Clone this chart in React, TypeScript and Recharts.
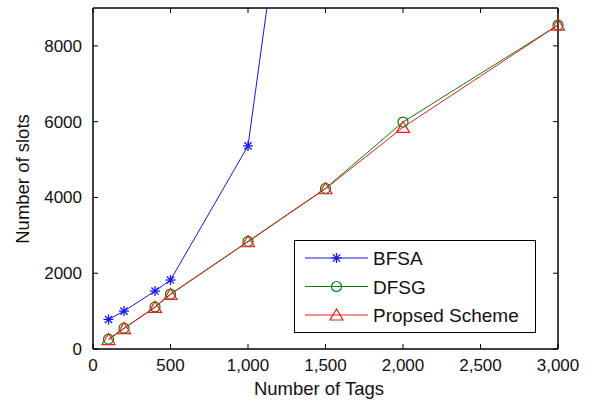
import { LineChart, Line, XAxis, YAxis, ReferenceLine } from 'recharts';

const tags = [100, 200, 400, 500, 1000, 1500, 2000, 3000];
const bfsa = [780, 1000, 1530, 1820, 5360, 20300, null, null];
const dfsg = [260, 550, 1110, 1450, 2840, 4240, 5990, 8550];
const proposed = [250, 540, 1100, 1440, 2830, 4230, 5850, 8550];

const xTicks = [0, 500, 1000, 1500, 2000, 2500, 3000];
const yTicks = [0, 2000, 4000, 6000, 8000];

const chartData = tags.map((t, i) => ({ tags: t, bfsa: bfsa[i], dfsg: dfsg[i], proposed: proposed[i] }));

const FONT = '"Liberation Sans", Arial, sans-serif';
const BLUE = '#1414f0';
const GREEN = '#0a800a';
const RED = '#ee1c1c';

// plot box, follows from the chart margins and axis sizes below
const PLOT = { left: 93, right: 558, top: 8, bottom: 349 };
const TICK = 5;

function Asterisk({ cx, cy, color }: any) {
  const r = 5;
  const d = 3.6;
  return (
    <g stroke={color} strokeWidth={1.3}>
      <line x1={cx - r} y1={cy} x2={cx + r} y2={cy} />
      <line x1={cx} y1={cy - r} x2={cx} y2={cy + r} />
      <line x1={cx - d} y1={cy - d} x2={cx + d} y2={cy + d} />
      <line x1={cx - d} y1={cy + d} x2={cx + d} y2={cy - d} />
    </g>
  );
}

function Circle({ cx, cy, color }: any) {
  return <circle cx={cx} cy={cy} r={5} fill="none" stroke={color} strokeWidth={1.2} />;
}

function Triangle({ cx, cy, color }: any) {
  const pts = `${cx},${cy - 6} ${cx - 6.5},${cy + 5} ${cx + 6.5},${cy + 5}`;
  return <polygon points={pts} fill="none" stroke={color} strokeWidth={1.2} />;
}

const dotFn = (Marker: any, color: string) => (p: any) => {
  if (p.cy == null || p.value == null) return <g key={`d-${p.index}`} />;
  return <Marker key={`d-${p.index}`} cx={p.cx} cy={p.cy} color={color} />;
};

// bottom tick: inward tick mark at bottom and mirrored at top, plus label
function XTick({ x, payload }: any) {
  return (
    <g>
      <line x1={x} x2={x} y1={PLOT.bottom} y2={PLOT.bottom - TICK} stroke="#000" />
      <line x1={x} x2={x} y1={PLOT.top} y2={PLOT.top + TICK} stroke="#000" />
      <text x={x} y={PLOT.bottom + 22} textAnchor="middle" fontFamily={FONT} fontSize={17} fill="#111">
        {Number(payload.value).toLocaleString('en-US')}
      </text>
    </g>
  );
}

function YTick({ y, payload }: any) {
  return (
    <g>
      <line x1={PLOT.left} x2={PLOT.left + TICK} y1={y} y2={y} stroke="#000" />
      <line x1={PLOT.right} x2={PLOT.right - TICK} y1={y} y2={y} stroke="#000" />
      <text x={PLOT.left - 11} y={y + 6} textAnchor="end" fontFamily={FONT} fontSize={17} fill="#111">
        {payload.value}
      </text>
    </g>
  );
}

const legendItems = [
  { name: 'BFSA', color: BLUE, Marker: Asterisk },
  { name: 'DFSG', color: GREEN, Marker: Circle },
  { name: 'Propsed Scheme', color: RED, Marker: Triangle },
];

function LegendBox() {
  return (
    <svg width={242} height={93} style={{ display: 'block' }}>
      <rect x={0.5} y={0.5} width={241} height={92} fill="#fff" stroke="#000" strokeWidth={1} />
      {legendItems.map((it, i) => {
        const y = 18 + i * 28.5;
        return (
          <g key={it.name}>
            <line x1={11} y1={y} x2={74} y2={y} stroke={it.color} strokeWidth={1} />
            <it.Marker cx={42.5} cy={y} color={it.color} />
            <text x={79} y={y + 7} fontFamily={FONT} fontSize={19} fill="#111">
              {it.name}
            </text>
          </g>
        );
      })}
    </svg>
  );
}

export default function App() {
  return (
    <div style={{ position: 'absolute', left: 0, top: 0, width: 589, height: 402, background: '#fff' }}>
      <LineChart
        width={589}
        height={402}
        data={chartData}
        margin={{ top: 8, right: 31, left: 0, bottom: 0 }}
        style={{ fontFamily: FONT }}
      >
        <XAxis
          dataKey="tags"
          type="number"
          domain={[0, 3000]}
          ticks={xTicks}
          height={53}
          axisLine={{ stroke: '#000', strokeWidth: 1.5 }}
          tickLine={false}
          tick={<XTick />}
          label={{
            content: () => (
              <text x={319} y={395} textAnchor="middle" fontFamily={FONT} fontSize={18.5} fill="#111">
                Number of Tags
              </text>
            ),
          }}
        />
        <YAxis
          type="number"
          domain={[0, 9000]}
          ticks={yTicks}
          allowDataOverflow
          width={93}
          axisLine={{ stroke: '#000', strokeWidth: 1.5 }}
          tickLine={false}
          tick={<YTick />}
          label={{
            content: () => (
              <text
                x={22}
                y={179}
                transform="rotate(-90 22 179)"
                textAnchor="middle"
                dominantBaseline="central"
                fontFamily={FONT}
                fontSize={18.5}
                fill="#111"
              >
                Number of slots
              </text>
            ),
          }}
        />
        <ReferenceLine y={9000} stroke="#000" strokeWidth={1.5} />
        <ReferenceLine x={3000} stroke="#000" strokeWidth={1.5} />
        <Line
          type="linear"
          dataKey="bfsa"
          stroke={BLUE}
          strokeWidth={1}
          dot={dotFn(Asterisk, BLUE)}
          activeDot={false}
          isAnimationActive={false}
        />
        <Line
          type="linear"
          dataKey="dfsg"
          stroke={GREEN}
          strokeWidth={1}
          dot={dotFn(Circle, GREEN)}
          activeDot={false}
          isAnimationActive={false}
        />
        <Line
          type="linear"
          dataKey="proposed"
          stroke={RED}
          strokeWidth={1}
          dot={dotFn(Triangle, RED)}
          activeDot={false}
          isAnimationActive={false}
        />
      </LineChart>
      <div style={{ position: 'absolute', left: 294, top: 240 }}>
        <LegendBox />
      </div>
    </div>
  );
}
